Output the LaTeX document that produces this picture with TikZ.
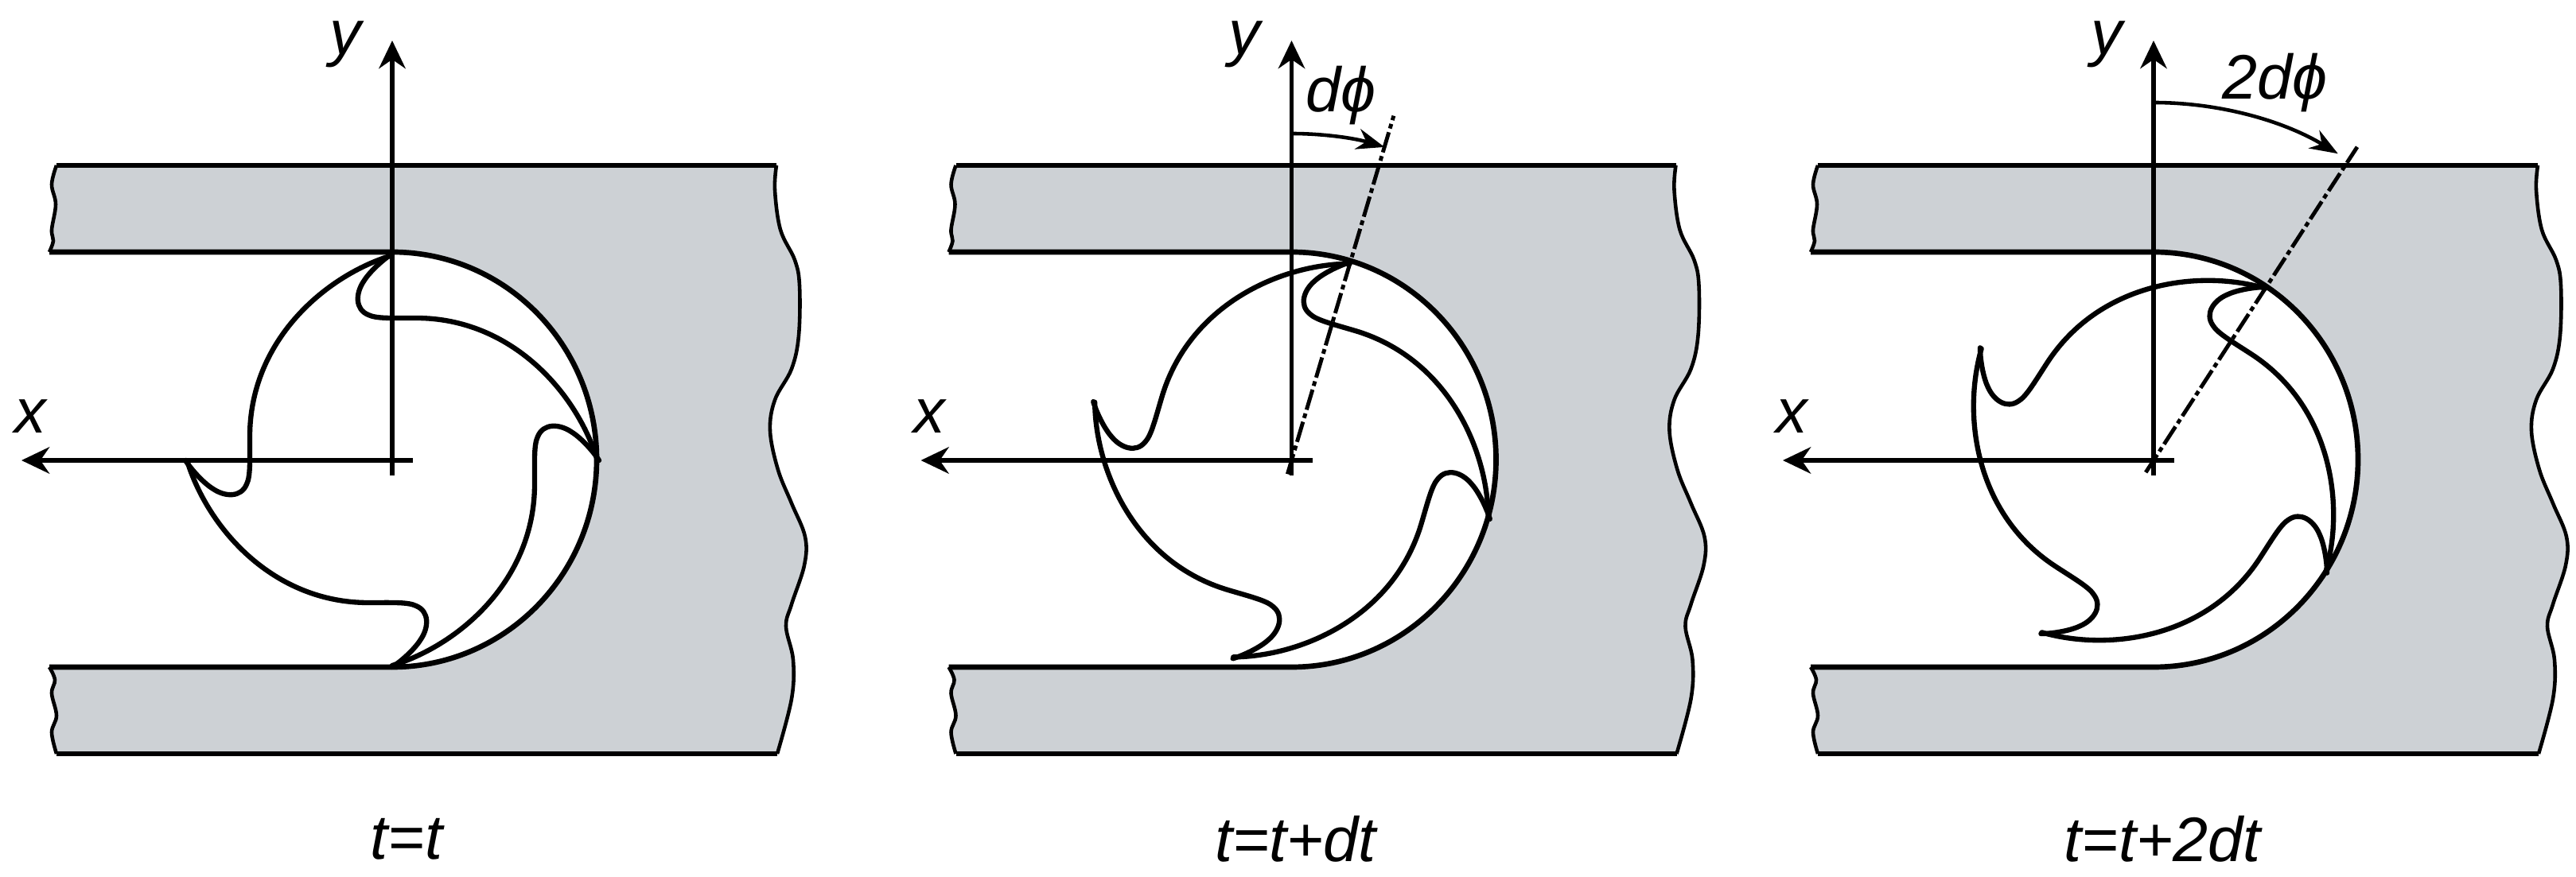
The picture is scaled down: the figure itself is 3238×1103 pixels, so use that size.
\documentclass[tikz,border=0pt]{standalone}
\usepackage{fontspec}
\setmainfont{Liberation Sans}
\usetikzlibrary{arrows.meta}
\definecolor{slabgray}{RGB}{205,209,213}
% outer edges of the slab; the coordinates are pixels around the tool centre
\newcommand{\rightedge}{(483,371) (481,340) (488,290) (506,252) (512,220) (511,157) (502,115) (481,76)
    (475,37) (485,-12) (502,-54) (519,-96) (518,-132) (502,-181) (495,-209) (504,-251) (502,-300) (484,-369)}
\newcommand{\lowleftedge}{(-422,-369) (-428,-342) (-422,-321) (-428,-293) (-424,-276) (-431,-260)}
\newcommand{\upleftedge}{(-431,262) (-426,276) (-428,290) (-423,322) (-428,347) (-422,371)}
% one tooth, from tip to tip
\newcommand{\drawtooth}[1]{\draw[tooth, rotate=#1] (258,0) .. controls (232,85) and (150,179) .. (30,179)
    .. controls (0,179) and (-20,178) .. (-30,183) .. controls (-47,190) and (-46,210) .. (-36,225)
    .. controls (-30,235) and (-15,250) .. (0,260);}

\begin{document}
\begin{tikzpicture}[
                    x=0.01cm, y=0.01cm,
                    outline/.style={draw=black, line width=1.9pt, line join=round},
                    wavy/.style={draw=black, line width=1.3pt},
                    tooth/.style={draw=black, line width=1.8pt, line cap=round},
                    axis_line/.style={draw=black, line width=1.5pt, -{Stealth[length=10pt, width=9.5pt]}},
                    sweep/.style={draw=black, line width=1.3pt, -{Stealth[length=10pt, width=7.5pt]}},
                    phase/.style={draw=black, line width=1.4pt, dash pattern=on 7.5pt off 1.4pt on 1.7pt off 1.4pt},
                    lab/.style={font=\fontsize{22.5}{27}\selectfont\itshape, inner sep=0pt}
                ]
    \useasboundingbox (0,0) rectangle (3238,1103);

    \foreach \name/\ox/\ang/\capx/\captext in {a/493/0/18/{t=t}, b/1623.5/16.5/5/{t=t+dt}, c/2707/33/11/{t=t+2dt}} {
        \begin{scope}[shift={(\ox,524)}]
            % the slab with its half round pocket
            \fill[slabgray] (-422,371) -- plot[smooth, tension=0.6] coordinates {\rightedge}
                -- plot[smooth, tension=0.6] coordinates {\lowleftedge}
                -- (0,-260) arc [start angle=-90, end angle=90, x radius=257, y radius=261]
                -- plot[smooth, tension=0.6] coordinates {\upleftedge} -- cycle;
            \draw[wavy] plot[smooth, tension=0.6] coordinates {\rightedge};
            \draw[wavy] plot[smooth, tension=0.6] coordinates {\lowleftedge};
            \draw[wavy] plot[smooth, tension=0.6] coordinates {\upleftedge};
            \draw[outline] (-422,371) -- (483,371);
            \draw[outline] (-422,-369) -- (484,-369);
            \draw[outline] (-431,262) -- (0,262) arc [start angle=90, end angle=-90, x radius=257, y radius=261] -- (-431,-260);

            % axes
            \coordinate (\name yfoot) at (0,-19);
            \coordinate (\name ytip) at (0,528);
            \coordinate (\name xfoot) at (26,0);
            \coordinate (\name xtip) at (-466,0);
            \draw[axis_line] (\name yfoot) -- (\name ytip);
            \draw[axis_line] (\name xfoot) -- (\name xtip);
            \node[lab] (\name ylab) at (-59,523) {y};
            \node[lab] (\name xlab) at (-455,55) {x};
            \node[lab] (\name time) at (\capx,-476) {\captext};

            % the tool
            \foreach \turn in {0,90,180,270} {
                \drawtooth{\turn-\ang}
            }
        \end{scope}
    }

    % turned tool: centre line and swept angle
    \begin{scope}[shift={(1623.5,524)}]
        \coordinate (bstart) at (90:411);
        \coordinate (bend) at (73.5:411);
        \draw[phase] (73.5:-18) -- (73.5:452);
        \draw[sweep] (bstart) arc (90:73.5:411);
        \node[lab] (bangle) at (62,459) {dϕ};
    \end{scope}
    \begin{scope}[shift={(2707,524)}]
        \coordinate (cstart) at (90:450);
        \coordinate (cend) at (59:450);
        \draw[phase] (57:-18) -- (57:470);
        \draw[sweep] (cstart) arc (90:59:450);
        \node[lab] (cangle) at (152,475) {2dϕ};
    \end{scope}
\end{tikzpicture}
\end{document}
